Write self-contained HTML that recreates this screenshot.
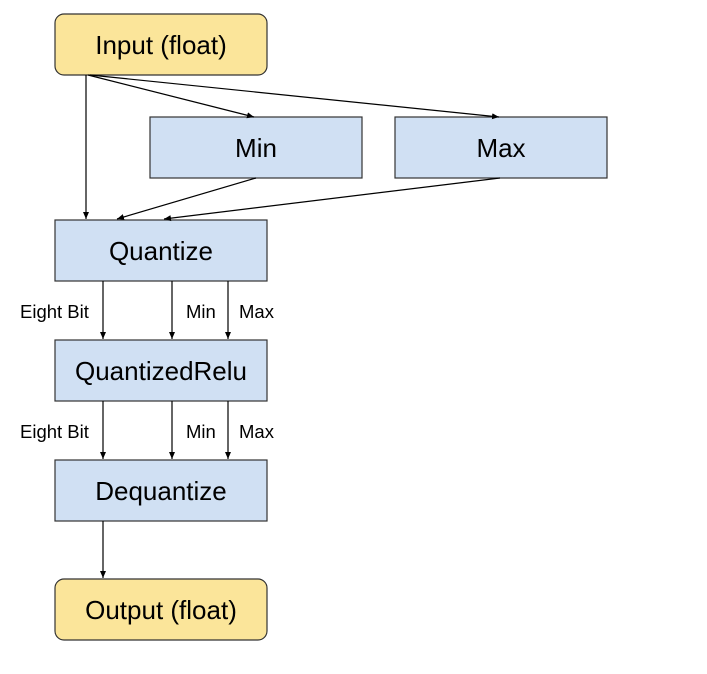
<!DOCTYPE html>
<html><head><style>body{margin:0;background:#fff}</style></head><body>
<svg width="707" height="669" xmlns="http://www.w3.org/2000/svg" font-family="Liberation Sans, Arial, sans-serif">
<defs><marker id="a" markerWidth="8" markerHeight="8" refX="7" refY="4" orient="auto" markerUnits="userSpaceOnUse"><path d="M0,1 L7,4 L0,7 z" fill="#000"/></marker></defs>
<g stroke="#333" stroke-width="1.2">
<rect x="55" y="14" width="212" height="61" rx="9" fill="#fbe59a"/>
<rect x="150" y="117" width="212" height="61" fill="#d0e0f3"/>
<rect x="395" y="117" width="212" height="61" fill="#d0e0f3"/>
<rect x="55" y="220" width="212" height="61" fill="#d0e0f3"/>
<rect x="55" y="340" width="212" height="61" fill="#d0e0f3"/>
<rect x="55" y="460" width="212" height="61" fill="#d0e0f3"/>
<rect x="55" y="579" width="212" height="61" rx="9" fill="#fbe59a"/>
</g>
<g stroke="#000" stroke-width="1.2" fill="none" marker-end="url(#a)">
<line x1="86" y1="75" x2="86" y2="219"/>
<line x1="88" y1="75" x2="254" y2="117"/>
<line x1="90" y1="75" x2="499" y2="117"/>
<line x1="256" y1="178" x2="117" y2="219"/>
<line x1="500" y1="178" x2="164" y2="219"/>
<line x1="103" y1="281" x2="103" y2="339"/>
<line x1="172" y1="281" x2="172" y2="339"/>
<line x1="228" y1="281" x2="228" y2="339"/>
<line x1="103" y1="401" x2="103" y2="459"/>
<line x1="172" y1="401" x2="172" y2="459"/>
<line x1="228" y1="401" x2="228" y2="459"/>
<line x1="103" y1="521" x2="103" y2="578"/>
</g>
<g font-size="26" text-anchor="middle" fill="#000">
<text x="161" y="54">Input (float)</text>
<text x="256" y="157">Min</text>
<text x="501" y="157">Max</text>
<text x="161" y="260">Quantize</text>
<text x="161" y="380">QuantizedRelu</text>
<text x="161" y="500">Dequantize</text>
<text x="161" y="619">Output (float)</text>
</g>
<g font-size="18.5" fill="#000">
<text x="20" y="318">Eight Bit</text><text x="186" y="318">Min</text><text x="239" y="318">Max</text>
<text x="20" y="438">Eight Bit</text><text x="186" y="438">Min</text><text x="239" y="438">Max</text>
</g>
</svg>
</body></html>
